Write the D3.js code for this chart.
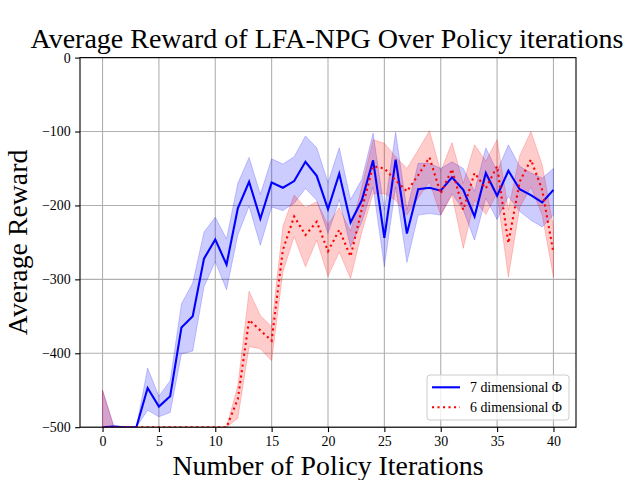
<!DOCTYPE html>
<html>
<head>
<meta charset="utf-8">
<script src="https://cdn.jsdelivr.net/npm/d3@7"></script>
<style>
  body { margin: 0; background: #fff; }
  svg { display: block; }
  text { font-family: "Liberation Serif", "Times New Roman", serif; }
</style>
</head>
<body>
<div id="chart"></div>
<script>
// iterations 0..40
const iterations = d3.range(0, 41);

// 7 dimensional Phi
const blueMean = [-500, -499, -500, -500, -447, -472, -458, -365, -350, -272,
  -246, -280, -204, -168, -218, -169, -176, -167, -141, -160,
  -205, -157, -223, -193, -139, -244, -138, -238, -178, -176,
  -180, -162, -179, -215, -156, -187, -153, -178, -186, -196, -179];
const blueUpper = [-450, -498, -500, -500, -420, -458, -437, -333, -305, -236,
  -216, -245, -170, -135, -185, -137, -144, -134, -106, -122,
  -169, -122, -192, -165, -102, -206, -101, -206, -143, -143,
  -150, -141, -150, -181, -122, -154, -118, -147, -156, -163, -150];
const blueLower = [-550, -500, -500, -500, -477, -486, -480, -401, -397, -310,
  -276, -314, -240, -201, -254, -202, -207, -197, -177, -193,
  -238, -192, -256, -222, -175, -283, -175, -277, -213, -211,
  -213, -184, -206, -247, -190, -219, -188, -208, -220, -229, -213];

// 6 dimensional Phi
const redMean = [-500, -500, -500, -500, -500, -500, -500, -500, -500, -500,
  -500, -500, -462, -355, -369, -383, -260, -215, -240, -222,
  -262, -233, -269, -205, -147, -150, -166, -181, -159, -135,
  -184, -151, -206, -156, -177, -147, -251, -168, -138, -179, -264];
const redUpper = [-450, -500, -500, -500, -500, -500, -500, -500, -500, -500,
  -500, -500, -444, -316, -349, -364, -228, -186, -203, -195,
  -226, -203, -235, -175, -111, -116, -134, -150, -125, -99,
  -154, -115, -170, -118, -140, -111, -206, -133, -100, -145, -229];
const redLower = [-550, -500, -500, -500, -500, -500, -500, -500, -500, -500,
  -500, -500, -488, -391, -394, -410, -290, -242, -283, -247,
  -296, -263, -299, -236, -184, -184, -193, -213, -190, -168,
  -213, -186, -258, -193, -212, -184, -297, -203, -175, -213, -297];

const xTicks = [0, 5, 10, 15, 20, 25, 30, 35, 40];
const yTicks = [-500, -400, -300, -200, -100, 0];

const titleText = "Average Reward of LFA-NPG Over Policy iterations";
const xLabel = "Number of Policy Iterations";
const yLabel = "Average Reward";
const legendLabels = ["7 dimensional \u03A6", "6 dimensional \u03A6"];

const width = 640;
const height = 480;
const plotLeft = 80, plotRight = 576, plotTop = 57.6, plotBottom = 427.2;

const svg = d3.select("#chart").append("svg")
  .attr("width", width)
  .attr("height", height);

const x = d3.scaleLinear().domain([-2, 42]).range([plotLeft, plotRight]);
const y = d3.scaleLinear().domain([-500, 0]).range([plotBottom, plotTop]);

svg.append("defs").append("clipPath").attr("id", "plotclip")
  .append("rect")
  .attr("x", plotLeft).attr("y", plotTop)
  .attr("width", plotRight - plotLeft).attr("height", plotBottom - plotTop);

// grid
const grid = svg.append("g");
xTicks.forEach((t) => {
  grid.append("line")
    .attr("x1", x(t)).attr("x2", x(t))
    .attr("y1", plotTop).attr("y2", plotBottom)
    .attr("stroke", "#b0b0b0").attr("stroke-width", 1.1);
});
yTicks.forEach((t) => {
  grid.append("line")
    .attr("x1", plotLeft).attr("x2", plotRight)
    .attr("y1", y(t)).attr("y2", y(t))
    .attr("stroke", "#b0b0b0").attr("stroke-width", 1.1);
});

const plot = svg.append("g").attr("clip-path", "url(#plotclip)");

const band = (upper, lower) => d3.area()
  .x((d) => x(d))
  .y0((d, i) => y(lower[i]))
  .y1((d, i) => y(upper[i]));

const line = (vals) => d3.line()
  .x((d) => x(d))
  .y((d, i) => y(vals[i]));

plot.append("path")
  .attr("d", band(blueUpper, blueLower)(iterations))
  .attr("fill", "#0000ff").attr("fill-opacity", 0.2)
  .attr("stroke", "#0000ff").attr("stroke-opacity", 0.2).attr("stroke-width", 1);

plot.append("path")
  .attr("d", band(redUpper, redLower)(iterations))
  .attr("fill", "#ff0000").attr("fill-opacity", 0.2)
  .attr("stroke", "#ff0000").attr("stroke-opacity", 0.2).attr("stroke-width", 1);

plot.append("path")
  .attr("d", line(blueMean)(iterations))
  .attr("fill", "none").attr("stroke", "#0000ff").attr("stroke-width", 2.1);

plot.append("path")
  .attr("d", line(redMean)(iterations))
  .attr("fill", "none").attr("stroke", "#ff0000").attr("stroke-width", 2.1)
  .attr("stroke-dasharray", "2.1,3.4");

// axes
const xAxis = svg.append("g")
  .attr("transform", `translate(0,${plotBottom})`)
  .call(d3.axisBottom(x).tickValues(xTicks).tickSize(4.9).tickPadding(4).tickSizeOuter(0));
const yAxis = svg.append("g")
  .attr("transform", `translate(${plotLeft},0)`)
  .call(d3.axisLeft(y).tickValues(yTicks).tickSize(4.9).tickPadding(4.5).tickSizeOuter(0));

[xAxis, yAxis].forEach((a) => {
  a.select(".domain").remove();
  a.selectAll(".tick line").attr("stroke", "#000").attr("stroke-width", 1.1);
  a.selectAll(".tick text")
    .attr("font-family", "'Liberation Serif', 'Times New Roman', serif")
    .attr("font-size", "13.9px").attr("fill", "#000");
});

// frame
svg.append("rect")
  .attr("x", plotLeft).attr("y", plotTop)
  .attr("width", plotRight - plotLeft).attr("height", plotBottom - plotTop)
  .attr("fill", "none").attr("stroke", "#000").attr("stroke-width", 1.1);

// labels
svg.append("text")
  .attr("x", (plotLeft + plotRight) / 2 - 1).attr("y", 47.5)
  .attr("text-anchor", "middle").attr("font-size", "28px")
  .text(titleText);

svg.append("text")
  .attr("x", (plotLeft + plotRight) / 2).attr("y", 475)
  .attr("text-anchor", "middle").attr("font-size", "27.8px")
  .text(xLabel);

svg.append("text")
  .attr("transform", `translate(27,${(plotTop + plotBottom) / 2}) rotate(-90)`)
  .attr("text-anchor", "middle").attr("font-size", "27.8px")
  .text(yLabel);

// legend
const legend = svg.append("g");
legend.append("rect")
  .attr("x", 427).attr("y", 375)
  .attr("width", 142).attr("height", 45)
  .attr("rx", 3)
  .attr("fill", "#fff").attr("fill-opacity", 0.8)
  .attr("stroke", "#cccccc").attr("stroke-width", 1);

const legendItems = [
  { label: legendLabels[0], color: "#0000ff", dash: null },
  { label: legendLabels[1], color: "#ff0000", dash: "2.1,3.4" },
];
legendItems.forEach((d, i) => {
  const ly = 387.3 + i * 20;
  legend.append("line")
    .attr("x1", 432).attr("x2", 460)
    .attr("y1", ly).attr("y2", ly)
    .attr("stroke", d.color).attr("stroke-width", 2.1)
    .attr("stroke-dasharray", d.dash);
  legend.append("text")
    .attr("x", 470).attr("y", ly + 4.8)
    .attr("font-size", "13.9px")
    .text(d.label);
});
</script>
</body>
</html>
